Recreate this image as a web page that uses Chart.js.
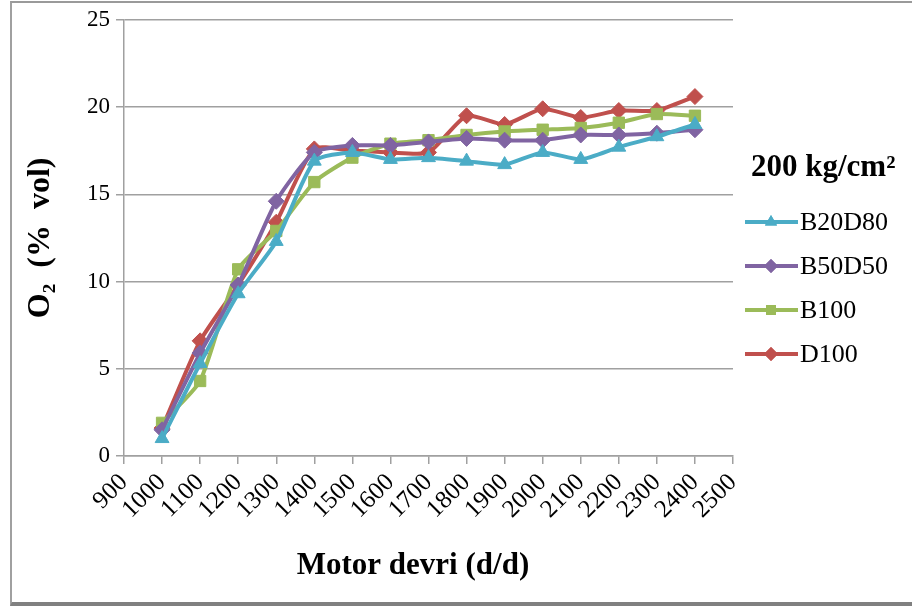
<!DOCTYPE html>
<html>
<head>
<meta charset="utf-8">
<script src="https://cdn.jsdelivr.net/npm/chart.js@4/dist/chart.umd.min.js"></script>
<style>
  html, body { margin: 0; padding: 0; background: #fff; }
  #wrap { position: relative; width: 912px; height: 607px; overflow: hidden; }
  #frame {
    position: absolute; left: 10px; top: 1px; width: 900px; height: 599px;
    border-left: 2px solid #a0a0a0; border-top: 2px solid #9a9a9a;
    border-bottom: 4px solid #808080; border-right: 1px solid #e4e4e4;
  }
  #chart { position: absolute; left: 0; top: 0; }
</style>
</head>
<body>
<div id="wrap">
  <div id="frame"></div>
  <canvas id="chart" width="912" height="607"></canvas>
</div>
<script>
// Motor devri (d/d) vs O2 (% vol), 200 kg/cm2
const rpm = [1000, 1100, 1200, 1300, 1400, 1500, 1600, 1700, 1800, 1900, 2000, 2100, 2200, 2300, 2400];

const b20d80 = [1.0, 5.3, 9.3, 12.3, 16.9, 17.4, 17.0, 17.1, 16.9, 16.7, 17.4, 17.0, 17.7, 18.3, 19.0];
const b50d50 = [1.5, 5.9, 9.8, 14.6, 17.4, 17.8, 17.8, 18.0, 18.2, 18.1, 18.1, 18.4, 18.4, 18.5, 18.7];
const b100   = [1.9, 4.3, 10.7, 12.9, 15.7, 17.1, 17.9, 18.1, 18.4, 18.6, 18.7, 18.8, 19.1, 19.6, 19.5];
const d100   = [1.6, 6.6, 9.8, 13.4, 17.6, 17.5, 17.4, 17.4, 19.5, 19.0, 19.9, 19.4, 19.8, 19.8, 20.6];

const seriesNames = ['B20D80', 'B50D50', 'B100', 'D100'];
const legendTitle = '200 kg/cm²';

const SERIF = '"Liberation Serif", "Times New Roman", serif';

const styles = [
  { color: '#4bacc6', point: 'triangle', radius: 8 },
  { color: '#8064a2', point: 'rectRot',  radius: 8 },
  { color: '#9bbb59', point: 'rect',     radius: 8 },
  { color: '#c0504d', point: 'rectRot',  radius: 8 },
];

const toPoints = ys => ys.map((y, i) => ({ x: rpm[i], y }));

const datasets = [b20d80, b50d50, b100, d100].map((ys, i) => ({
  label: seriesNames[i],
  data: toPoints(ys),
  borderColor: styles[i].color,
  backgroundColor: styles[i].color,
  borderWidth: 4,
  pointStyle: styles[i].point,
  pointRadius: styles[i].radius,
  pointBorderWidth: 1,
  tension: 0.2,
}));

// legend drawn by hand: line + marker like the Excel one
const sideLegend = {
  id: 'sideLegend',
  afterDraw(chart) {
    const ctx = chart.ctx;
    ctx.save();
    ctx.fillStyle = '#000';
    ctx.font = 'bold 31px ' + SERIF;
    ctx.textBaseline = 'middle';
    ctx.textAlign = 'left';
    ctx.fillText(legendTitle, 751, 168);

    ctx.font = '26px ' + SERIF;
    chart.data.datasets.forEach((ds, i) => {
      const y = 222 + i * 44;
      ctx.strokeStyle = ds.borderColor;
      ctx.lineWidth = 4;
      ctx.beginPath();
      ctx.moveTo(745, y);
      ctx.lineTo(798, y);
      ctx.stroke();
      ctx.fillStyle = ds.backgroundColor;
      Chart.helpers.drawPoint(ctx, { pointStyle: ds.pointStyle, radius: 7, rotation: 0, borderWidth: 0 }, 771, y);
      ctx.fill();
      ctx.fillStyle = '#000';
      ctx.fillText(ds.label, 800, y + 1);
    });
    ctx.restore();
  }
};

new Chart(document.getElementById('chart'), {
  type: 'line',
  data: { datasets },
  options: {
    responsive: false,
    animation: false,
    layout: { padding: { top: 17, right: 179, left: 22, bottom: 22 } },
    plugins: { legend: { display: false }, tooltip: { enabled: false } },
    scales: {
      x: {
        type: 'linear',
        min: 900, max: 2500,
        afterFit: s => { s.height = 129; },
        afterBuildTicks: s => { s.ticks = []; for (let v = 900; v <= 2500; v += 100) s.ticks.push({ value: v }); },
        grid: { display: true, drawOnChartArea: false, color: '#a0a0a0', tickLength: 8, lineWidth: 1.5 },
        border: { color: '#a0a0a0', width: 1.5 },
        ticks: {
          color: '#000', font: { family: SERIF, size: 25 },
          minRotation: 45, maxRotation: 45, autoSkip: false, padding: 4,
          callback: v => String(v),
        },
        title: {
          display: true, text: 'Motor devri (d/d)\u00a0\u00a0\u00a0\u00a0', color: '#000',
          font: { family: SERIF, size: 31, weight: 'bold' }, padding: { top: 10, bottom: 0 },
        },
      },
      y: {
        min: 0, max: 25,
        afterFit: s => { s.width = 102; },
        grid: { color: '#a0a0a0', lineWidth: 1.5, tickLength: 8 },
        border: { color: '#a0a0a0', width: 1.5 },
        ticks: { stepSize: 5, color: '#000', font: { family: SERIF, size: 23 }, padding: 6 },
        title: {
          display: true, text: 'O₂  (%  vol)', color: '#000',
          font: { family: SERIF, size: 32, weight: 'bold' }, padding: { top: 0, bottom: 10 },
        },
      },
    },
  },
  plugins: [sideLegend],
});
</script>
</body>
</html>
